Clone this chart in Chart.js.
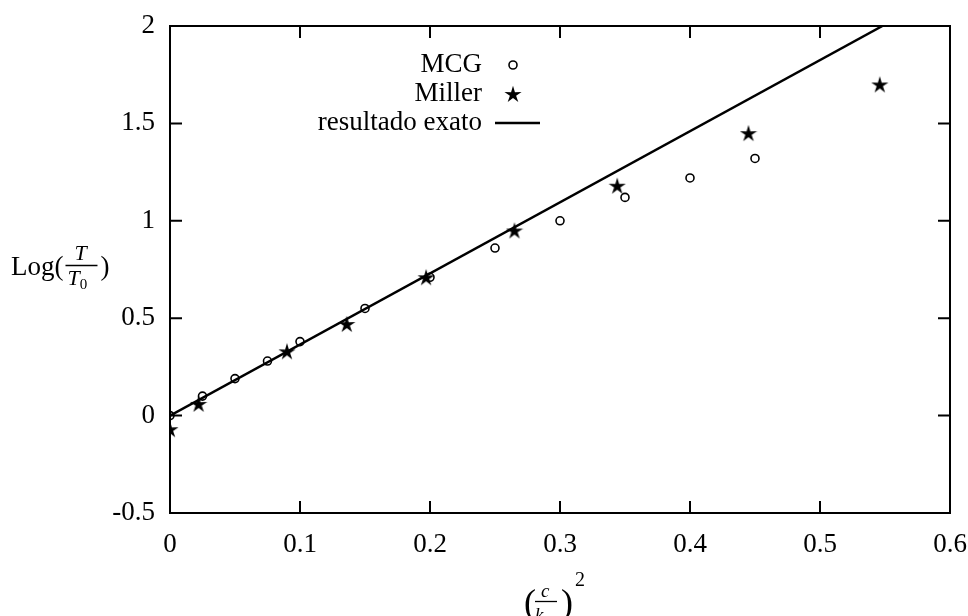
<!DOCTYPE html>
<html>
<head>
<meta charset="utf-8">
<script src="https://cdn.jsdelivr.net/npm/chart.js@4.4.0/dist/chart.umd.min.js"></script>
<style>
html, body { margin: 0; padding: 0; background: #fff; }
</style>
</head>
<body>
<canvas id="myChart" width="968" height="616"></canvas>
<script>
// data
var mcgX = [0, 0.025, 0.05, 0.075, 0.1, 0.15, 0.2, 0.25, 0.3, 0.35, 0.4, 0.45];
var mcgY = [0.0, 0.10, 0.19, 0.28, 0.38, 0.55, 0.71, 0.86, 1.0, 1.12, 1.22, 1.32];
var millerX = [0, 0.022, 0.09, 0.136, 0.197, 0.265, 0.344, 0.445, 0.546];
var millerY = [-0.07, 0.06, 0.33, 0.47, 0.71, 0.95, 1.18, 1.45, 1.70];
var exactX = [0, 0.548];
var exactY = [0, 2];
var seriesNames = ['MCG', 'Miller', 'resultado exato'];
var xTicks = [0, 0.1, 0.2, 0.3, 0.4, 0.5, 0.6];
var xTickLabels = ['0', '0.1', '0.2', '0.3', '0.4', '0.5', '0.6'];
var yTicks = [-0.5, 0, 0.5, 1, 1.5, 2];
var yTickLabels = ['-0.5', '0', '0.5', '1', '1.5', '2'];

var FONT = '"Liberation Serif", "Times New Roman", serif';

function toPoints(xs, ys) {
	var pts = [];
	for (var i = 0; i < xs.length; i++) {
		pts.push({x: xs[i], y: ys[i]});
	}
	return pts;
}

function makeStar(size) {
	var c = document.createElement('canvas');
	c.width = size;
	c.height = size;
	var g = c.getContext('2d');
	g.fillStyle = '#000';
	g.beginPath();
	for (var i = 0; i < 10; i++) {
		var r = (i % 2 == 0) ? size / 2 : size / 5.5;
		var a = -Math.PI / 2 + i * Math.PI / 5;
		g.lineTo(size / 2 + r * Math.cos(a), size / 2 + r * Math.sin(a) + 0.8);
	}
	g.closePath();
	g.fill();
	return c;
}
var starImg = makeStar(18);

// frame, inward ticks, legend and axis titles
var decorations = {
	id: 'decorations',
	afterDatasetsDraw: function(chart) {
		var ctx = chart.ctx;
		var a = chart.chartArea;
		var xs = chart.scales.x, ys = chart.scales.y;
		ctx.save();
		ctx.strokeStyle = '#000';
		ctx.lineWidth = 2;
		ctx.strokeRect(a.left, a.top, a.right - a.left, a.bottom - a.top);
		ctx.beginPath();
		for (var i = 1; i < xTicks.length - 1; i++) {
			var px = xs.getPixelForValue(xTicks[i]);
			ctx.moveTo(px, a.bottom); ctx.lineTo(px, a.bottom - 12);
			ctx.moveTo(px, a.top); ctx.lineTo(px, a.top + 12);
		}
		for (var j = 1; j < yTicks.length - 1; j++) {
			var py = ys.getPixelForValue(yTicks[j]);
			ctx.moveTo(a.left, py); ctx.lineTo(a.left + 12, py);
			ctx.moveTo(a.right, py); ctx.lineTo(a.right - 12, py);
		}
		ctx.stroke();

		// legend
		ctx.fillStyle = '#000';
		ctx.font = '27px ' + FONT;
		ctx.textAlign = 'right';
		ctx.textBaseline = 'middle';
		var ly = [65, 94, 123];
		for (var k = 0; k < seriesNames.length; k++) {
			ctx.fillText(seriesNames[k], 482, ly[k]);
		}
		ctx.lineWidth = 1.6;
		ctx.beginPath();
		ctx.arc(513, ly[0], 4, 0, Math.PI * 2);
		ctx.stroke();
		ctx.drawImage(starImg, 513 - 9, ly[1] - 9);
		ctx.lineWidth = 2.5;
		ctx.beginPath();
		ctx.moveTo(495, ly[2]); ctx.lineTo(540, ly[2]);
		ctx.stroke();

		// y title: Log(T/T0)
		ctx.textAlign = 'left';
		ctx.textBaseline = 'alphabetic';
		ctx.font = '27px ' + FONT;
		ctx.fillText('Log(', 11, 275);
		var fx = 11 + ctx.measureText('Log(').width + 2;
		ctx.font = 'italic 22px ' + FONT;
		var wT = ctx.measureText('T').width;
		ctx.fillText('T', fx + 9, 260);
		ctx.fillText('T', fx + 2, 285);
		ctx.font = '15px ' + FONT;
		ctx.fillText('0', fx + 2 + wT, 289);
		ctx.lineWidth = 1.3;
		ctx.beginPath();
		ctx.moveTo(fx, 265.5); ctx.lineTo(fx + 32, 265.5);
		ctx.stroke();
		ctx.font = '27px ' + FONT;
		ctx.fillText(')', fx + 35, 275);

		// x title: (c/k0)^2
		ctx.font = '36px ' + FONT;
		ctx.fillText('(', 524, 614);
		ctx.font = 'italic 19px ' + FONT;
		ctx.fillText('c', 541, 597);
		ctx.fillText('k', 535, 621);
		ctx.font = '13px ' + FONT;
		ctx.fillText('0', 545, 624);
		ctx.lineWidth = 1.3;
		ctx.beginPath();
		ctx.moveTo(535, 601.5); ctx.lineTo(557, 601.5);
		ctx.stroke();
		ctx.font = '36px ' + FONT;
		ctx.fillText(')', 561, 614);
		ctx.font = '20px ' + FONT;
		ctx.fillText('2', 575, 586);
		ctx.restore();
	}
};

var ctx = document.getElementById('myChart').getContext('2d');
var chart = new Chart(ctx, {
	type: 'scatter',
	data: {
		datasets: [
			{
				label: seriesNames[0],
				data: toPoints(mcgX, mcgY),
				pointStyle: 'circle',
				pointRadius: 4,
				borderColor: '#000',
				backgroundColor: 'rgba(0,0,0,0)',
				borderWidth: 1.6,
				order: 1
			},
			{
				label: seriesNames[1],
				data: toPoints(millerX, millerY),
				pointStyle: starImg,
				pointRadius: 9,
				borderColor: '#000',
				backgroundColor: '#000',
				order: 0
			},
			{
				label: seriesNames[2],
				data: toPoints(exactX, exactY),
				showLine: true,
				pointRadius: 0,
				borderColor: '#000',
				borderWidth: 2.5,
				order: 2
			}
		]
	},
	options: {
		responsive: false,
		animation: false,
		layout: { padding: { left: 0, right: 18, top: 26, bottom: 0 } },
		plugins: {
			legend: { display: false },
			tooltip: { enabled: false }
		},
		scales: {
			x: {
				type: 'linear',
				min: 0,
				max: 0.6,
				afterFit: function(scale) {
					scale.height = 103;
					scale.paddingLeft = 0;
					scale.paddingRight = 0;
				},
				afterBuildTicks: function(scale) {
					scale.ticks = xTicks.map(function(v) { return {value: v}; });
				},
				grid: { display: false, drawTicks: false },
				border: { display: false },
				ticks: {
					color: '#000',
					padding: 16,
					maxRotation: 0,
					font: { family: FONT, size: 27 },
					callback: function(v, i) { return xTickLabels[i]; }
				}
			},
			y: {
				type: 'linear',
				min: -0.5,
				max: 2,
				afterFit: function(scale) {
					scale.width = 170;
					scale.paddingTop = 0;
					scale.paddingBottom = 0;
				},
				afterBuildTicks: function(scale) {
					scale.ticks = yTicks.map(function(v) { return {value: v}; });
				},
				grid: { display: false, drawTicks: false },
				border: { display: false },
				ticks: {
					color: '#000',
					padding: 15,
					font: { family: FONT, size: 27 },
					callback: function(v, i) { return yTickLabels[i]; }
				}
			}
		}
	},
	plugins: [decorations]
});
</script>
</body>
</html>
